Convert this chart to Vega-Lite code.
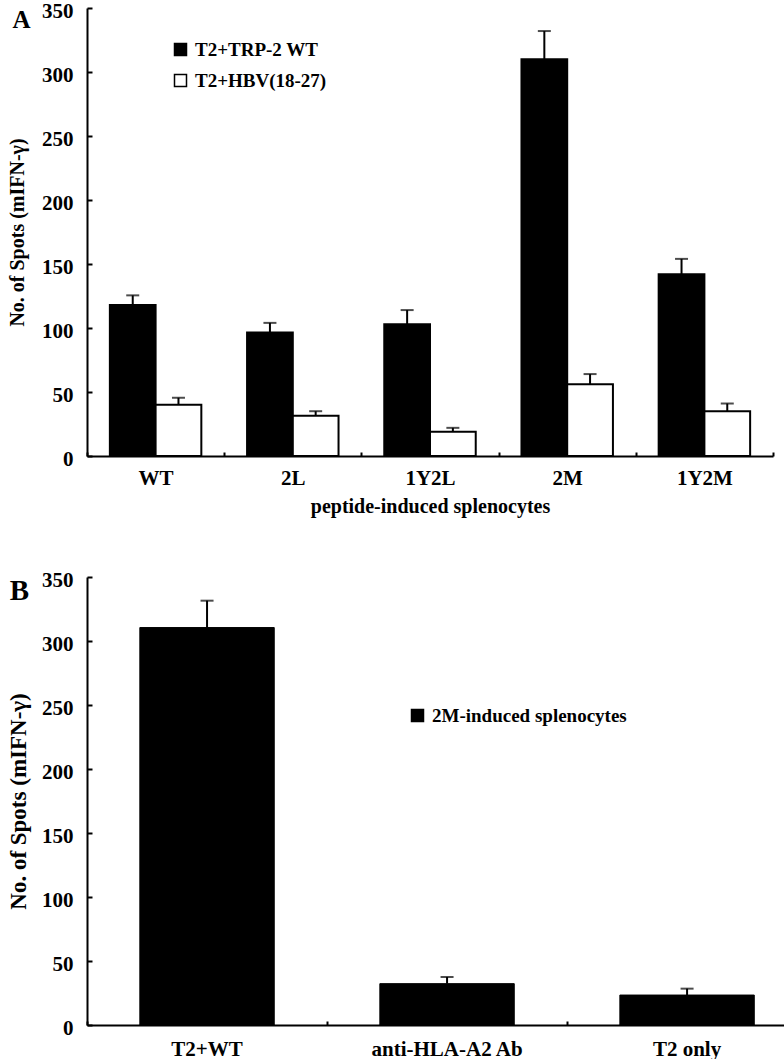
{
  "$schema": "https://vega.github.io/schema/vega-lite/v6.json",
  "background": "white",
  "padding": {"left": 7, "top": 0, "right": 0, "bottom": 0},
  "spacing": 53,
  "config": {
    "font": "Liberation Serif",
    "view": {"stroke": null},
    "axis": {
      "labelFont": "Liberation Serif", "labelFontWeight": "bold", "labelFontSize": 21, "labelColor": "black",
      "titleFont": "Liberation Serif", "titleFontWeight": "bold", "titleFontSize": 20, "titleColor": "black",
      "domainColor": "black", "domainWidth": 2, "tickColor": "black", "tickWidth": 2, "grid": false
    },
    "legend": {
      "labelFont": "Liberation Serif", "labelFontWeight": "bold", "labelFontSize": 19, "labelColor": "black", "labelLimit": 400,
      "symbolType": "square", "symbolSize": 144, "symbolStrokeColor": "black", "symbolStrokeWidth": 1.5,
      "padding": 0, "labelOffset": 5, "rowPadding": 11, "title": null
    },
    "title": {"font": "Liberation Serif", "fontWeight": "bold", "color": "black", "orient": "left", "anchor": "end", "frame": "group", "angle": 0, "align": "left", "baseline": "top", "offset": -41}
  },
  "vconcat": [
    {
      "width": 686,
      "height": 448,
      "title": {"text": "A", "fontSize": 25},
      "data": {"values": [
        {"peptide": "WT", "series": "T2+TRP-2 WT", "value": 118, "upper": 125.5},
        {"peptide": "WT", "series": "T2+HBV(18-27)", "value": 40, "upper": 45.5},
        {"peptide": "2L", "series": "T2+TRP-2 WT", "value": 96.5, "upper": 104},
        {"peptide": "2L", "series": "T2+HBV(18-27)", "value": 31.5, "upper": 35},
        {"peptide": "1Y2L", "series": "T2+TRP-2 WT", "value": 103, "upper": 114},
        {"peptide": "1Y2L", "series": "T2+HBV(18-27)", "value": 19, "upper": 22},
        {"peptide": "2M", "series": "T2+TRP-2 WT", "value": 310, "upper": 332},
        {"peptide": "2M", "series": "T2+HBV(18-27)", "value": 56, "upper": 64},
        {"peptide": "1Y2M", "series": "T2+TRP-2 WT", "value": 142, "upper": 154},
        {"peptide": "1Y2M", "series": "T2+HBV(18-27)", "value": 35, "upper": 41}
      ]},
      "encoding": {
        "x": {"field": "peptide", "type": "nominal", "sort": ["WT", "2L", "1Y2L", "2M", "1Y2M"],
              "scale": {"paddingInner": 0, "paddingOuter": 0},
              "axis": {"title": "peptide-induced splenocytes", "labelAngle": 0, "tickBand": "extent", "tickSize": -4, "labelPadding": 15, "titlePadding": 8}},
        "xOffset": {"field": "series", "type": "nominal", "sort": ["T2+TRP-2 WT", "T2+HBV(18-27)"],
                    "scale": {"paddingInner": 0, "paddingOuter": 0.5}}
      },
      "layer": [
        {
          "mark": {"type": "bar", "stroke": "black", "strokeWidth": 2},
          "encoding": {
            "y": {"field": "value", "type": "quantitative", "title": "No. of Spots (mIFN-γ)",
                  "scale": {"domain": [0, 350]},
                  "axis": {"values": [0, 50, 100, 150, 200, 250, 300, 350], "tickSize": -5, "labelPadding": 19, "labelOffset": 3, "titlePadding": 14}},
            "color": {"field": "series", "type": "nominal",
                      "scale": {"domain": ["T2+TRP-2 WT", "T2+HBV(18-27)"], "range": ["black", "white"]},
                      "legend": {"orient": "none", "legendX": 84, "legendY": 32}}
          }
        },
        {
          "mark": {"type": "rule", "color": "black", "strokeWidth": 2},
          "encoding": {
            "y": {"field": "value", "type": "quantitative", "title": "No. of Spots (mIFN-γ)"},
            "y2": {"field": "upper"}
          }
        },
        {
          "mark": {"type": "tick", "color": "black", "thickness": 2, "size": 13, "orient": "horizontal"},
          "encoding": {
            "y": {"field": "upper", "type": "quantitative", "title": "No. of Spots (mIFN-γ)"}
          }
        }
      ]
    },
    {
      "width": 697,
      "height": 448,
      "title": {"text": "B", "fontSize": 29},
      "data": {"values": [
        {"condition": "T2+WT", "series": "2M-induced splenocytes", "value": 310.5, "upper": 331.5},
        {"condition": "anti-HLA-A2 Ab", "series": "2M-induced splenocytes", "value": 32.3, "upper": 37.5},
        {"condition": "T2 only", "series": "2M-induced splenocytes", "value": 23.4, "upper": 28.4}
      ]},
      "encoding": {
        "x": {"field": "condition", "type": "nominal", "sort": ["T2+WT", "anti-HLA-A2 Ab", "T2 only"],
              "scale": {"paddingInner": 0.44, "paddingOuter": 0.172, "align": 0.64},
              "axis": {"title": null, "labelAngle": 0, "bandPosition": -0.393, "tickSize": -4, "labelPadding": 17}}
      },
      "layer": [
        {
          "mark": {"type": "bar", "stroke": "black", "strokeWidth": 1},
          "encoding": {
            "y": {"field": "value", "type": "quantitative", "title": "No. of  Spots (mIFN-γ)",
                  "scale": {"domain": [0, 350]},
                  "axis": {"values": [0, 50, 100, 150, 200, 250, 300, 350], "tickSize": -5, "labelPadding": 19, "labelOffset": 3, "titlePadding": 11, "titleFontSize": 23}},
            "color": {"field": "series", "type": "nominal",
                      "scale": {"domain": ["2M-induced splenocytes"], "range": ["black"]},
                      "legend": {"orient": "none", "legendX": 321, "legendY": 129}}
          }
        },
        {
          "mark": {"type": "rule", "color": "black", "strokeWidth": 2},
          "encoding": {
            "y": {"field": "value", "type": "quantitative", "title": "No. of  Spots (mIFN-γ)"},
            "y2": {"field": "upper"}
          }
        },
        {
          "mark": {"type": "tick", "color": "black", "thickness": 2, "size": 13, "orient": "horizontal"},
          "encoding": {
            "y": {"field": "upper", "type": "quantitative", "title": "No. of  Spots (mIFN-γ)"}
          }
        }
      ]
    }
  ],
  "resolve": {"scale": {"color": "independent"}, "legend": {"color": "independent"}}
}
